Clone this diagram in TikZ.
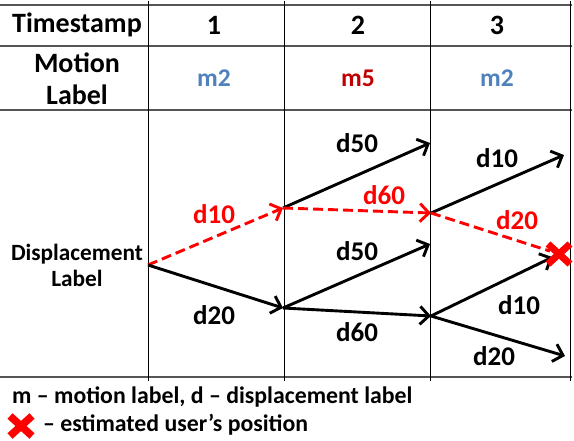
\documentclass[tikz,border=0pt]{standalone}
\usepackage{fontspec}
\setmainfont{Carlito}
\usetikzlibrary{arrows.meta,calc}
\definecolor{mblue}{HTML}{4F81BD}
\definecolor{mred}{HTML}{C00000}
\definecolor{xred}{HTML}{FF0000}
\definecolor{gridgray}{HTML}{555555}
\tikzset{
  hline/.style={draw=gridgray, line width=1.8pt},
  vline/.style={draw=black, line width=0.9pt},
  hdr/.style={font=\fontsize{28}{30}\selectfont\bfseries, inner sep=0pt},
  mlab/.style={font=\fontsize{25.5}{27}\selectfont\bfseries, inner sep=0pt},
  dlab/.style={font=\fontsize{27}{29}\selectfont\bfseries, inner sep=0pt},
  side/.style={font=\fontsize{23.3}{26}\selectfont\bfseries, inner sep=0pt, align=center},
  foot/.style={font=\fontsize{23.8}{26}\selectfont\bfseries, inner sep=0pt, anchor=west},
  arr/.style={draw=black, line width=2.9pt, -{Straight Barb[length=9pt,width=18pt,line width=2.9pt]}},
  redarr/.style={draw=xred, line width=2.9pt, dash pattern=on 10pt off 5pt, -{Straight Barb[length=9pt,width=18pt,line width=2.9pt]}},
  redline/.style={draw=xred, line width=2.9pt, dash pattern=on 10pt off 5pt},
  xmark/.style={draw=xred, line width=7pt},
}
\begin{document}
\begin{tikzpicture}[x=1pt,y=-1pt]
\useasboundingbox (0,0) rectangle (574,441);
% grid
\draw[hline] (0,5) -- (572,5);
\draw[hline] (0,46) -- (572,46);
\draw[hline] (0,110) -- (572,110);
\draw[hline] (0,377) -- (572,377);
\draw[vline] (148,1) -- (148,381);
\draw[vline] (284,1) -- (284,381);
\draw[vline] (430,1) -- (430,381);
\draw[vline] (570,1) -- (570,381);
% header texts
\node[hdr] (ts) at (77,25) {Timestamp};
\node[hdr] (t1) at (214,25) {1};
\node[hdr] (t2) at (358,25) {2};
\node[hdr] (t3) at (497,25) {3};
\node[hdr, align=center, font=\fontsize{28}{32}\selectfont\bfseries] (ml) at (77,79) {Motion\\Label};
\node[mlab, text=mblue] (m1) at (214,78) {m2};
\node[mlab, text=mred] (m2) at (358,78) {m5};
\node[mlab, text=mblue] (m3) at (497,78) {m2};
\node[side] (dl) at (77,265) {Displacement\\Label};
% junctions
\coordinate (s) at (148,265);
\coordinate (a1) at (283,208);
\coordinate (a2) at (283,308);
\coordinate (b1) at (430,143);
\coordinate (b2) at (431,213);
\coordinate (b3) at (430,244);
\coordinate (b4) at (431,316);
\coordinate (c1) at (564,155);
\coordinate (x) at (559,254);
\coordinate (c4) at (565,356);
% arrows
\draw[redarr] (s) -- (a1);
\draw[arr] (s) -- (a2);
\draw[arr] (a1) -- (b1);
\draw[redarr] (a1) -- (b2);
\draw[arr] (a2) -- (b3);
\draw[arr] (a2) -- (b4);
\draw[arr] (b2) -- (c1);
\draw[redline] (b2) -- ($(b2)!0.93!(x)$);
\draw[arr] (b4) -- ($(b4)!0.95!(x)$);
\draw[arr] (b4) -- (c4);
% X mark in diagram
\draw[xmark] ($(x)+(-11,-10)$) -- ($(x)+(11,10)$);
\draw[xmark] ($(x)+(-11,10)$) -- ($(x)+(11,-10)$);
% displacement labels
\node[dlab, text=xred] (l1) at (214,214) {d10};
\node[dlab] (l2) at (214,315) {d20};
\node[dlab] (l3) at (357,143) {d50};
\node[dlab, text=xred] (l4) at (384,195) {d60};
\node[dlab] (l5) at (357,251) {d50};
\node[dlab] (l6) at (357,332) {d60};
\node[dlab] (l7) at (497,158) {d10};
\node[dlab, text=xred] (l8) at (517,220) {d20};
\node[dlab] (l9) at (519,305) {d10};
\node[dlab] (l10) at (494,356) {d20};
% footer
\node[foot] (f1) at (12,397) {m – motion label, d – displacement label};
\coordinate (fx) at (21,426);
\draw[xmark, line width=7.5pt] ($(fx)+(-11,-10)$) -- ($(fx)+(11,10)$);
\draw[xmark, line width=7.5pt] ($(fx)+(-11,10)$) -- ($(fx)+(11,-10)$);
\node[foot] (f2) at (43,425) {– estimated user’s position};
\end{tikzpicture}
\end{document}
